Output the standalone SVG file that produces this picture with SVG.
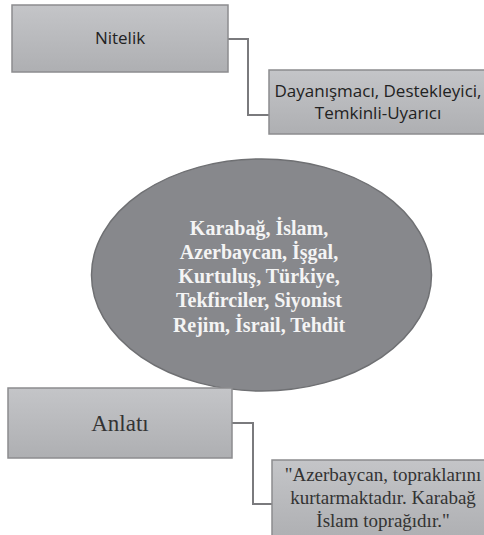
<svg xmlns="http://www.w3.org/2000/svg" width="484" height="535" viewBox="0 0 484 535">
<style>
.box{fill:url(#g);stroke:#8c8c8f;stroke-width:1.5}
.conn{fill:none;stroke:#7a7a7d;stroke-width:2}
.sans{font-family:"Open Sans","Liberation Sans",sans-serif;fill:#222;text-anchor:middle;font-size:17px}
.serif{font-family:"Liberation Serif","Times New Roman",serif;fill:#333;text-anchor:middle}
.ell{font-family:"Liberation Serif","Times New Roman",serif;font-weight:bold;fill:#f4f4f4;text-anchor:middle;font-size:20px}
</style>
<defs>
<linearGradient id="g" x1="0" y1="0" x2="0" y2="1">
<stop offset="0" stop-color="#c4c5c8"/>
<stop offset="1" stop-color="#aeafb2"/>
</linearGradient>
</defs>
<rect width="484" height="535" fill="#ffffff"/>
<g id="connectors">
<polyline class="conn" points="228,39 248,39 248,115 269,115"/>
<polyline class="conn" points="232,423 253,423 253,504 272,504"/>
</g>
<g id="nitelik">
<rect class="box" x="12" y="5" width="216" height="67"/>
<text class="sans" x="120" y="44">Nitelik</text>
</g>
<g id="dayanismaci">
<rect class="box" x="269" y="70" width="216" height="64"/>
<text class="sans" x="378" y="97">Dayanışmacı, Destekleyici,</text>
<text class="sans" x="378" y="119">Temkinli-Uyarıcı</text>
</g>
<g id="keywords">
<ellipse cx="261.5" cy="275" rx="170" ry="116" fill="#87888c" stroke="#6f7073" stroke-width="1.5"/>
<text class="ell" x="259" y="235">Karabağ, İslam,</text>
<text class="ell" x="259" y="259">Azerbaycan, İşgal,</text>
<text class="ell" x="259" y="283">Kurtuluş, Türkiye,</text>
<text class="ell" x="259" y="307">Tekfirciler, Siyonist</text>
<text class="ell" x="259" y="332">Rejim, İsrail, Tehdit</text>
</g>
<g id="anlati">
<rect class="box" x="8" y="388" width="224" height="70"/>
<text class="serif" x="120" y="431" font-size="23">Anlatı</text>
</g>
<g id="quote">
<rect class="box" x="272" y="460" width="214" height="80"/>
<text class="serif" x="383" y="481" font-size="19">"Azerbaycan, topraklarını</text>
<text class="serif" x="383" y="504" font-size="19">kurtarmaktadır. Karabağ</text>
<text class="serif" x="383" y="527" font-size="19">İslam toprağıdır."</text>
</g>
</svg>
